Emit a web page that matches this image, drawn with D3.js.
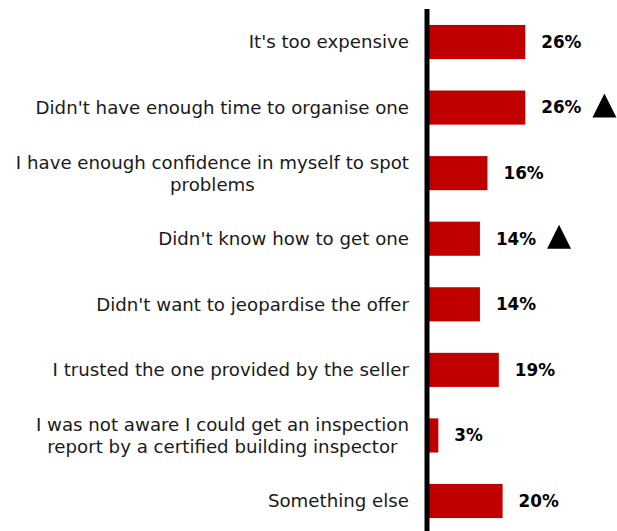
<!DOCTYPE html>
<html>
<head>
<meta charset="utf-8">
<script src="https://cdn.jsdelivr.net/npm/d3@7/dist/d3.min.js"></script>
<style>
  html, body { margin: 0; padding: 0; background: #fff; }
  svg { display: block; }
</style>
</head>
<body>
<svg id="chart" width="617" height="531"></svg>
<script>
// Reasons for not getting a building inspection (share of respondents)
const categories = [
  "It's too expensive",
  "Didn't have enough time to organise one",
  "I have enough confidence in myself to spot\nproblems",
  "Didn't know how to get one",
  "Didn't want to jeopardise the offer",
  "I trusted the one provided by the seller",
  "I was not aware I could get an inspection\nreport by a certified building inspector",
  "Something else"
];
const values = [26, 26, 16, 14, 14, 19, 3, 20];
// Rows flagged with an upward trend marker
const trendUp = [false, true, false, true, false, false, false, false];

const W = 617, H = 531;
const axisX = 427;
const labelRight = 409;
const fontFamily = "'DejaVu Sans', sans-serif";

const svg = d3.select("#chart");

const x = d3.scaleLinear().domain([0, 100]).range([axisX, axisX + 378]);
const y = d3.scaleBand()
  .domain(categories)
  .range([9.2, 533.8])
  .paddingInner(0.48)
  .paddingOuter(0.24);

const rows = categories.map((c, i) => ({ cat: c, value: values[i], up: trendUp[i] }));

// Bars
svg.append("g")
  .selectAll("rect")
  .data(rows)
  .join("rect")
  .attr("x", x(0))
  .attr("y", d => y(d.cat))
  .attr("width", d => x(d.value) - x(0))
  .attr("height", y.bandwidth())
  .attr("fill", "#c00000");

// Vertical baseline
svg.append("line")
  .attr("x1", axisX).attr("x2", axisX)
  .attr("y1", 9).attr("y2", H)
  .attr("stroke", "#000")
  .attr("stroke-width", 5);

// Category labels: right-aligned block, wrapped lines centred inside it
const lineH = 22;
const catG = svg.append("g")
  .attr("font-family", fontFamily)
  .attr("font-size", 18.2)
  .attr("fill", "#1a1a1a");

rows.forEach(d => {
  const lines = d.cat.split("\n");
  const cy = y(d.cat) + y.bandwidth() / 2;
  const t = catG.append("text").attr("text-anchor", "middle");
  const spans = lines.map((ln, i) =>
    t.append("tspan")
      .attr("y", cy + (i - (lines.length - 1) / 2) * lineH)
      .attr("dy", "0.35em")
      .text(ln)
  );
  const maxW = d3.max(spans, s => s.node().getComputedTextLength());
  spans.forEach(s => s.attr("x", labelRight - maxW / 2));
});

// Value labels, with a trend triangle where flagged
const valG = svg.append("g")
  .attr("font-family", fontFamily)
  .attr("font-size", 16.8)
  .attr("font-weight", "bold")
  .attr("fill", "#000");

rows.forEach(d => {
  const cy = y(d.cat) + y.bandwidth() / 2;
  const t = valG.append("text")
    .attr("x", x(d.value) + 16)
    .attr("y", cy)
    .attr("dy", "0.35em")
    .text(d.value + "%");
  if (d.up) {
    const end = x(d.value) + 16 + t.node().getComputedTextLength();
    const tw = 24, th = 24, cx = end + 11 + tw / 2, ty = cy - 2;
    svg.append("path")
      .attr("d", `M${cx},${ty - th / 2}L${cx + tw / 2},${ty + th / 2}L${cx - tw / 2},${ty + th / 2}Z`)
      .attr("fill", "#000");
  }
});
</script>
</body>
</html>
